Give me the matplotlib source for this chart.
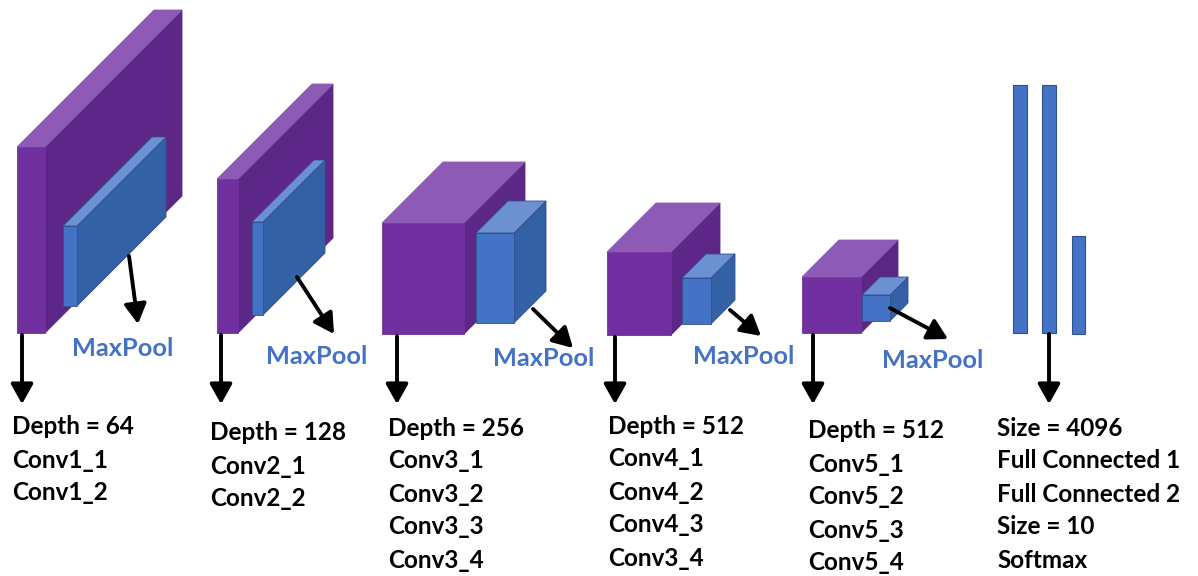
import matplotlib.pyplot as plt
from matplotlib.patches import Polygon, Rectangle

# Datos del diagrama (VGG19)
bloques = ['Depth = 64', 'Depth = 128', 'Depth = 256', 'Depth = 512', 'Depth = 512']
capas = [
    ['Conv1_1', 'Conv1_2'],
    ['Conv2_1', 'Conv2_2'],
    ['Conv3_1', 'Conv3_2', 'Conv3_3', 'Conv3_4'],
    ['Conv4_1', 'Conv4_2', 'Conv4_3', 'Conv3_4'],
    ['Conv5_1', 'Conv5_2', 'Conv5_3', 'Conv5_4'],
]
texto_fc = ['Size = 4096', 'Full Connected 1', 'Full Connected 2', 'Size = 10', 'Softmax']

# Geometría (pixeles): cubo morado x0, x1, y_top, y_bot, profundidad
cubos = [(17, 45, 147, 333, 137), (217, 238, 179, 333, 95), (382, 464, 223, 334, 61),
         (607, 671, 252, 335, 49), (802, 861, 277, 333, 37)]
# cubo azul (maxpool)
pools = [(63, 77, 226, 306, 89), (252, 263, 222, 315, 62), (476, 514, 233, 323, 32),
         (682, 711, 278, 324, 24), (862, 890, 295, 321, 18)]
flechas_pool = [((129, 256), (138, 324)), ((297, 277), (334, 334)), ((533, 309), (573, 348)),
                ((730, 310), (761, 336)), ((890, 308), (948, 339))]
pos_pool = [(72, 349), (266, 357), (493, 358), (693, 357), (882, 361)]
pos_texto = [(12, 427), (210, 433), (388, 428), (608, 426), (808, 431)]
x_flecha = [22, 221, 397, 615, 813]

barras_fc = [(1013, 1027, 85, 333), (1042, 1056, 85, 333), (1072, 1085, 236, 334)]

morado = ['#7030A0', '#8D5AB6', '#5C2787']
azul = ['#4472C4', '#6C91D2', '#3460A6']
azul_txt = '#4472C4'

plt.rcParams['font.family'] = ['Lato', 'DejaVu Sans']

fig = plt.figure(figsize=(11.98, 5.76), dpi=100)
ax = fig.add_axes([0, 0, 1, 1])
ax.set_xlim(0, 1198)
ax.set_ylim(576, 0)
ax.axis('off')


def cubo(ax, x0, x1, yt, yb, d, col, borde=None):
    frente = Polygon([(x0, yt), (x1, yt), (x1, yb), (x0, yb)], closed=True,
                     facecolor=col[0], edgecolor=borde or col[0], lw=0.6)
    arriba = Polygon([(x0, yt), (x1, yt), (x1 + d, yt - d), (x0 + d, yt - d)], closed=True,
                     facecolor=col[1], edgecolor=borde or col[1], lw=0.6)
    lado = Polygon([(x1, yt), (x1, yb), (x1 + d, yb - d), (x1 + d, yt - d)], closed=True,
                   facecolor=col[2], edgecolor=borde or col[2], lw=0.6)
    for p in (lado, arriba, frente):
        ax.add_patch(p)


def flecha(ax, ini, fin):
    ax.annotate('', xy=fin, xytext=ini,
                arrowprops=dict(arrowstyle='-|>,head_length=0.8,head_width=0.45',
                                color='black', lw=2.8, shrinkA=0, shrinkB=0,
                                mutation_scale=15))


for i in range(len(bloques)):
    cubo(ax, *cubos[i], morado)
    cubo(ax, *pools[i], azul, borde='#2F528F')
    flecha(ax, *flechas_pool[i])
    ax.text(pos_pool[i][0], pos_pool[i][1], 'MaxPool', color=azul_txt, fontsize=18.3,
            fontweight='bold', va='center', ha='left')
    flecha(ax, (x_flecha[i], cubos[i][3] + 2), (x_flecha[i], 404))
    lineas = [bloques[i]] + capas[i]
    for j, t in enumerate(lineas):
        ax.text(pos_texto[i][0], pos_texto[i][1] + j * 33, t, fontsize=17.5,
                fontweight='bold', va='center', ha='left', color='black')

for x0, x1, yt, yb in barras_fc:
    ax.add_patch(Rectangle((x0, yt), x1 - x0, yb - yt, facecolor=azul[0],
                           edgecolor='#2F528F', lw=0.8))
flecha(ax, (1049, 334), (1049, 404))
for j, t in enumerate(texto_fc):
    ax.text(997, 428 + j * 33, t, fontsize=17.5, fontweight='bold', va='center',
            ha='left', color='black')

fig.savefig('out.png', dpi=100)
